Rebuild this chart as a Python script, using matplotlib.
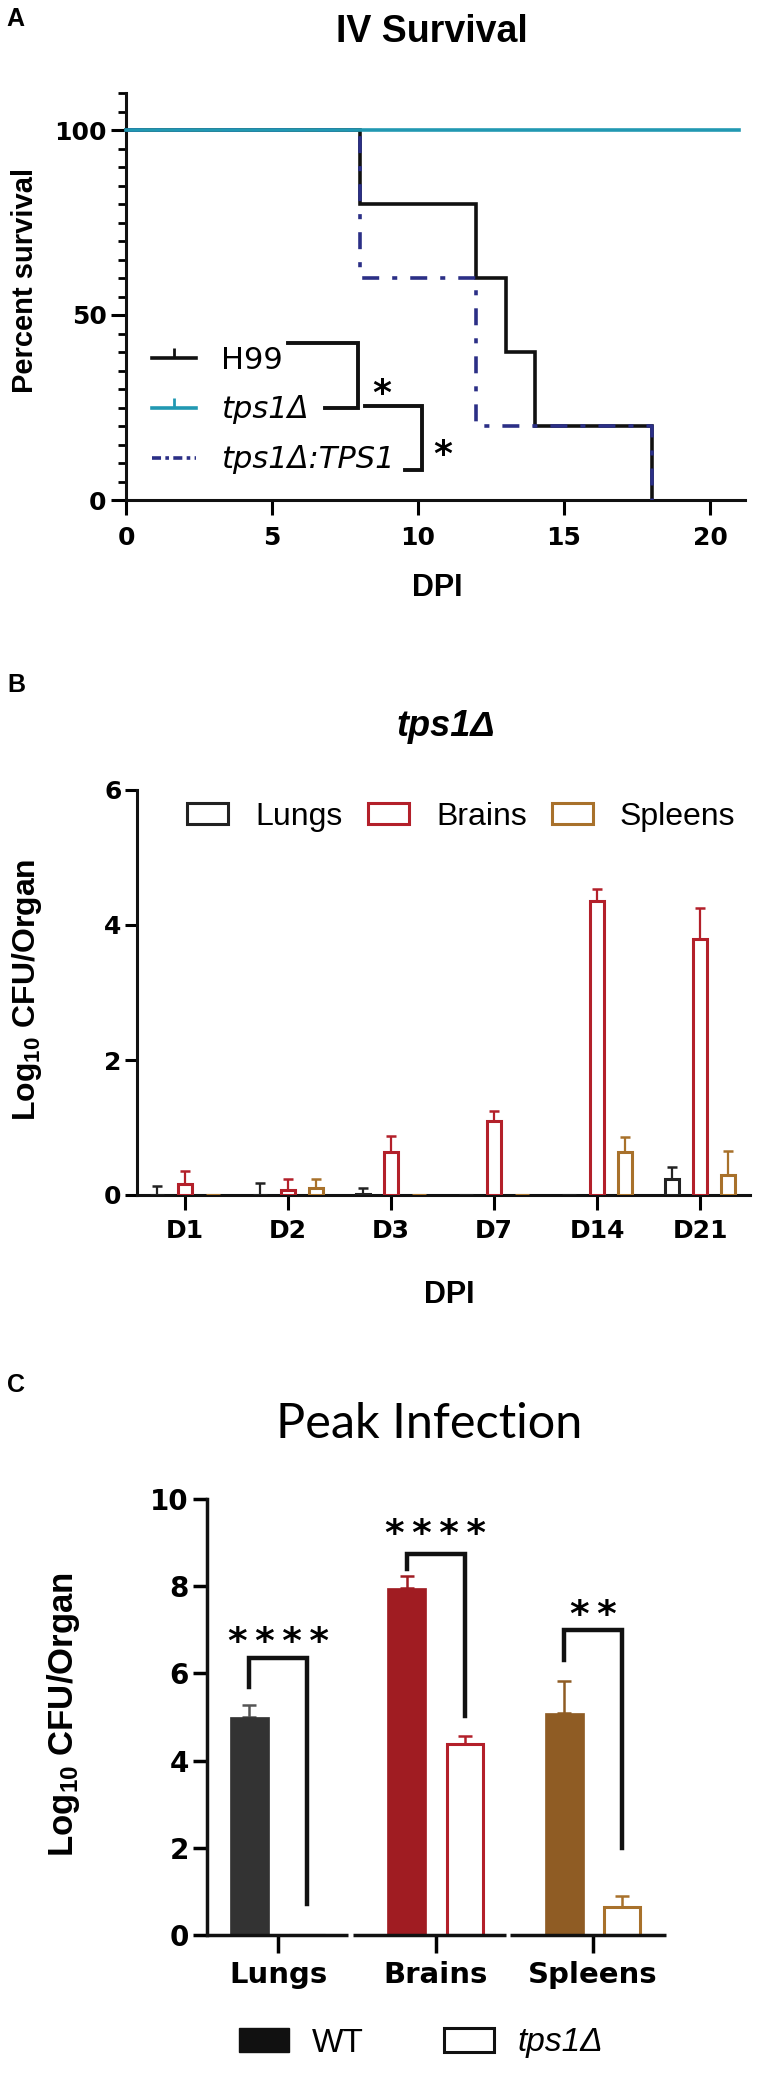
import numpy as np
import matplotlib
matplotlib.use('Agg')
import matplotlib.pyplot as plt
from matplotlib.lines import Line2D
from matplotlib.patches import Patch
import matplotlib.transforms as mtransforms
from matplotlib.ticker import MultipleLocator

plt.rcParams['font.family'] = ['Liberation Sans', 'DejaVu Sans']
plt.rcParams['mathtext.fontset'] = 'custom'
plt.rcParams['mathtext.rm'] = 'Liberation Sans'
plt.rcParams['mathtext.bf'] = 'Liberation Sans:bold'
plt.rcParams['mathtext.it'] = 'Liberation Sans:italic'

# ---------------- data ----------------
# Panel A: Kaplan-Meier survival (step curves)
h99_days = [0, 8, 12, 13, 14, 18]
h99_surv = [100, 80, 60, 40, 20, 0]
comp_days = [0, 8, 12, 18]
comp_surv = [100, 60, 20, 0]
tps1_days = [0, 21]
tps1_surv = [100, 100]
surv_labels = ['H99', 'tps1Δ', 'tps1Δ:TPS1']
surv_xticks = [0, 5, 10, 15, 20]
surv_yticks = [0, 50, 100]

# Panel B: tps1Δ organ burden over time
days = ['D1', 'D2', 'D3', 'D7', 'D14', 'D21']
lungs_b = [0.0, 0.0, 0.02, 0.0, 0.0, 0.24]
lungs_b_err = [0.13, 0.18, 0.08, 0.0, 0.0, 0.17]
brains_b = [0.17, 0.07, 0.63, 1.09, 4.35, 3.79]
brains_b_err = [0.19, 0.16, 0.25, 0.15, 0.18, 0.46]
spleens_b = [0.0, 0.11, 0.0, 0.0, 0.64, 0.30]
spleens_b_err = [0.0, 0.13, 0.0, 0.0, 0.22, 0.35]
organ_legend = ['Lungs', 'Brains', 'Spleens']
b_yticks = [0, 2, 4, 6]

# Panel C: peak infection
organs = ['Lungs', 'Brains', 'Spleens']
wt_c = [5.0, 7.96, 5.1]
wt_c_err = [0.28, 0.28, 0.72]
tps1_c = [0.0, 4.37, 0.65]
tps1_c_err = [0.0, 0.19, 0.24]
sig_c = ['*\u2009*\u2009*\u2009*', '*\u2009*\u2009*\u2009*', '*\u2009*']
c_yticks = [0, 2, 4, 6, 8, 10]

# ---------------- styles ----------------
BLACK = '#111111'
TEAL = '#2198B2'
NAVY = '#2B2F86'
RED_E = '#B3202A'
BROWN_E = '#A8712B'
GREY_E = '#222222'
WT_FILL = ['#333333', '#A01C22', '#8F5C24']
WT_ERR = ['#555555', '#A01C22', '#8F5C24']
KO_EDGE = ['#222222', '#B3202A', '#A8712B']
TICKFONT = ['DejaVu Sans']

W, H = 758, 2078
fig = plt.figure(figsize=(W / 100, H / 100), dpi=100)


def rect(l, t, r, b):
    return [l / W, 1 - b / H, (r - l) / W, (b - t) / H]


def fx(p):
    return p / W


def fy(p):
    return 1 - p / H


def style_axes(ax, lw):
    for s in ['top', 'right']:
        ax.spines[s].set_visible(False)
    for s in ['left', 'bottom']:
        ax.spines[s].set_linewidth(lw)
        ax.spines[s].set_color(BLACK)
        ax.spines[s].set_capstyle('projecting')


# ================= Panel A =================
axA = fig.add_axes(rect(126, 93, 745, 500))
style_axes(axA, 2.2)
axA.set_xlim(0, 21.2)
axA.set_ylim(0, 110)
axA.step(h99_days, h99_surv, where='post', color=BLACK, lw=2.6, clip_on=False,
         solid_joinstyle='miter', zorder=3)
axA.step(comp_days, comp_surv, where='post', color=NAVY, lw=2.6, clip_on=False,
         dashes=(4.7, 3.6, 1.4, 3.6), zorder=4)
axA.step(tps1_days, tps1_surv, where='post', color=TEAL, lw=2.6, clip_on=False, zorder=5)
axA.set_xticks(surv_xticks)
axA.set_yticks(surv_yticks)
axA.yaxis.set_minor_locator(MultipleLocator(5))
axA.tick_params(axis='x', which='major', length=11, width=2.2, pad=8, labelsize=18)
axA.tick_params(axis='y', which='major', length=11, width=2.2, pad=3, labelsize=18)
axA.tick_params(axis='y', which='minor', length=5.5, width=2.0)
for lab in axA.get_xticklabels() + axA.get_yticklabels():
    lab.set_family(TICKFONT)
    lab.set_fontweight('bold')

handlesA = [
    Line2D([0], [0], color=BLACK, lw=2.6, marker=2, markersize=7, markeredgewidth=2),
    Line2D([0], [0], color=TEAL, lw=2.6, marker=2, markersize=7, markeredgewidth=2),
    Line2D([0], [0], color=NAVY, lw=2.6, dashes=(2.5, 1.2, 1.0, 1.2)),
]
legA = axA.legend(handlesA, surv_labels, loc='center left',
                  bbox_to_anchor=((152 - 126) / 619, (500 - 410) / 407),
                  frameon=False, prop={'family': 'DejaVu Sans', 'size': 22},
                  handlelength=1.45, handletextpad=0.8, labelspacing=0.68,
                  borderpad=0, borderaxespad=0)
legA.get_texts()[1].set_style('italic')
legA.get_texts()[2].set_style('italic')

# significance brackets (annotation)
axA.plot([5.55, 7.95, 7.95, 6.8], [42.4, 42.4, 25, 25], color=BLACK, lw=2.8,
         solid_joinstyle='miter', zorder=6)
axA.plot([8.18, 10.14, 10.14, 9.55], [25.3, 25.3, 8.2, 8.2], color=BLACK, lw=2.8,
         solid_joinstyle='miter', zorder=6)
for (sx, sy) in [(8.77, 32), (10.86, 15.5)]:
    axA.annotate('*', (sx, sy), xytext=(0, -9), textcoords='offset points',
                 ha='center', va='center', fontsize=26, fontweight='bold',
                 family='DejaVu Sans')

fig.text(fx(15), fy(19), 'A', fontsize=18, fontweight='bold', ha='center', va='center')
fig.text(fx(432), fy(42), 'IV Survival', fontsize=27, fontweight='bold', ha='center',
         va='baseline')
fig.text(fx(25), fy(280), 'Percent survival', fontsize=21, fontweight='bold',
         rotation=90, ha='center', va='center')
fig.text(fx(437), fy(588), 'DPI', fontsize=22, fontweight='bold', ha='center', va='center')

# ================= Panel B =================
axB = fig.add_axes(rect(137, 790, 750, 1195))
style_axes(axB, 2.2)
xb = np.arange(len(days))
axB.set_xlim(-0.466, 5.485)
axB.set_ylim(0, 6)
off_b = 0.272
wb = 0.137
series_b = [(lungs_b, lungs_b_err, GREY_E, -off_b),
            (brains_b, brains_b_err, RED_E, 0.0),
            (spleens_b, spleens_b_err, BROWN_E, off_b)]
for vals, errs, col, off in series_b:
    vals = np.array(vals)
    errs = np.array(errs)
    axB.bar(xb + off, vals, width=wb, facecolor='white', edgecolor=col,
            linewidth=2.2, zorder=3)
    m = errs > 0
    axB.errorbar(xb[m] + off, vals[m], yerr=[np.zeros(m.sum()), errs[m]], fmt='none',
                 ecolor=col, elinewidth=1.6, capsize=3.5, capthick=1.8, zorder=2)
axB.set_xticks(xb)
axB.set_xticklabels(days)
axB.set_yticks(b_yticks)
axB.tick_params(axis='x', length=11, width=2.2, pad=6, labelsize=18)
axB.tick_params(axis='y', length=9, width=2.2, pad=2, labelsize=18)
for lab in axB.get_xticklabels() + axB.get_yticklabels():
    lab.set_family(TICKFONT)
    lab.set_fontweight('bold')

handlesB = [Patch(facecolor='white', edgecolor=c, linewidth=2.2) for c in [GREY_E, RED_E, BROWN_E]]
legB = axB.legend(handlesB, organ_legend, loc='center left', ncol=3,
                  bbox_to_anchor=((187 - 137) / 613, (1195 - 817) / 405),
                  frameon=False, fontsize=23, handlelength=1.29, handleheight=0.63,
                  handletextpad=0.85, columnspacing=0.78, borderpad=0, borderaxespad=0)

fig.text(fx(16), fy(685), 'B', fontsize=18, fontweight='bold', ha='center', va='center')
fig.text(fx(446), fy(727), 'tps1Δ', fontsize=26, fontweight='bold', style='italic',
         ha='center', va='center')
fig.text(fx(27), fy(990), r'Log$_{\mathbf{10}}$ CFU/Organ', fontsize=23, fontweight='bold',
         rotation=90, ha='center', va='center')
fig.text(fx(449), fy(1295), 'DPI', fontsize=22, fontweight='bold', ha='center', va='center')

# ================= Panel C =================
axC = fig.add_axes(rect(207, 1499, 666, 1935))
style_axes(axC, 2.5)
axC.spines['bottom'].set_visible(False)
xc = np.arange(len(organs))
axC.set_xlim(-0.451, 2.463)
axC.set_ylim(0, 10)
off_c = 0.184
wc_fill = 0.248
wc_open = 0.229
axC.bar(xc - off_c, wt_c, width=wc_fill, color=WT_FILL, edgecolor=WT_FILL,
        linewidth=0.5, zorder=3)
axC.bar(xc + off_c, tps1_c, width=wc_open, facecolor='white', edgecolor=KO_EDGE,
        linewidth=2.2, zorder=3)
for i in range(len(organs)):
    axC.errorbar([xc[i] - off_c], [wt_c[i]], yerr=[[0], [wt_c_err[i]]], fmt='none',
                 ecolor=WT_ERR[i], elinewidth=1.8, capsize=5, capthick=1.8, zorder=2)
    if tps1_c_err[i] > 0:
        axC.errorbar([xc[i] + off_c], [tps1_c[i]], yerr=[[0], [tps1_c_err[i]]], fmt='none',
                     ecolor=KO_EDGE[i], elinewidth=1.8, capsize=5, capthick=1.8, zorder=2)

# segmented x axis (GraphPad style)
trC = mtransforms.blended_transform_factory(axC.transData, axC.transAxes)
for a, b in [(-0.451, 0.445), (0.475, 1.445), (1.475, 2.463)]:
    axC.plot([a, b], [0, 0], transform=trC, color=BLACK, lw=2.5, clip_on=False,
             solid_capstyle='butt', zorder=4)

axC.set_xticks(xc)
axC.set_xticklabels(organs)
axC.set_yticks(c_yticks)
axC.tick_params(axis='x', length=13, width=2.5, pad=6, labelsize=21)
axC.tick_params(axis='y', length=10, width=2.5, pad=3, labelsize=20)
for lab in axC.get_xticklabels() + axC.get_yticklabels():
    lab.set_family(TICKFONT)
    lab.set_fontweight('bold')

# significance brackets (annotation layout)
brk_low_left = [5.69, 8.39, 6.31]
brk_top = [6.35, 8.73, 7.0]
brk_low_right = [0.7, 5.02, 2.0]
star_y = [6.98, 9.47, 7.61]
for i in range(len(organs)):
    axC.plot([xc[i] - off_c, xc[i] - off_c, xc[i] + off_c, xc[i] + off_c],
             [brk_low_left[i], brk_top[i], brk_top[i], brk_low_right[i]],
             color=BLACK, lw=3.2, solid_joinstyle='miter', zorder=5)
    axC.annotate(sig_c[i], (xc[i], star_y[i]), xytext=(0, -9), textcoords='offset points',
                 ha='center', va='center', fontsize=27, fontweight='bold',
                 family='DejaVu Sans')

fig.text(fx(16), fy(1385), 'C', fontsize=18, fontweight='bold', ha='center', va='center')
fig.text(fx(429), fy(1438), 'Peak Infection', fontsize=35, family='Lato',
         ha='center', va='baseline')
fig.text(fx(63), fy(1715), r'Log$_{\mathbf{10}}$ CFU/Organ', fontsize=25, fontweight='bold',
         rotation=90, ha='center', va='center')

handlesC = [Patch(facecolor=BLACK, edgecolor=BLACK, linewidth=1.0),
            Patch(facecolor='white', edgecolor=BLACK, linewidth=2.2)]
legC = fig.legend(handlesC, ['WT', 'tps1Δ'], loc='center left',
                  bbox_to_anchor=(fx(239), fy(2043)), ncol=2, frameon=False,
                  fontsize=24, handlelength=1.5, handleheight=0.72, handletextpad=0.7,
                  columnspacing=2.4, borderpad=0, borderaxespad=0)
legC.get_texts()[1].set_style('italic')

fig.savefig('out.png', dpi=100)
